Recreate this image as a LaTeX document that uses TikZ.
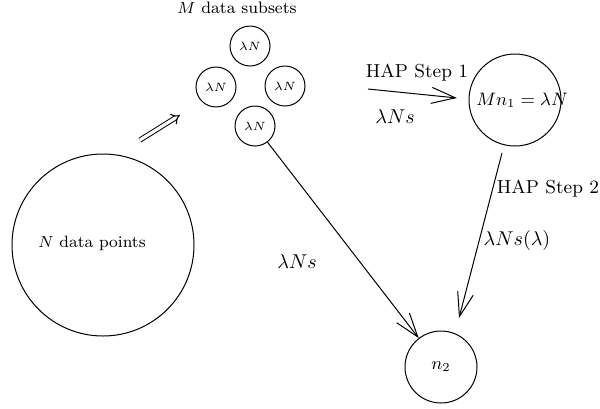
\documentclass[tikz,border=0pt]{standalone}
\usetikzlibrary{arrows.meta}

\begin{document}
\begin{tikzpicture}[x=0.5pt,y=-0.5pt,>={Straight Barb[length=12pt,width=8pt]},
 set/.style={draw,circle,inner sep=0pt,line width=0.5pt},
 sub/.style={set,minimum size=20pt,font=\fontsize{6}{7}\selectfont},
 flow/.style={->,line width=0.5pt},
 lab/.style={font=\fontsize{9.4}{11}\selectfont}]
\useasboundingbox (0,0) rectangle (600,408);
\node[set,minimum size=91pt,font=\fontsize{8.2}{10}\selectfont] (all) at (103,245) {};
\node[font=\fontsize{8.2}{10}\selectfont] (alllab) at (92,243) {$N$ data points};
\node[font=\fontsize{8.3}{10}\selectfont] (subs) at (237,8) {$M$ data subsets};
\node[sub] (s1) at (250,46) {$\lambda N$};
\node[sub] (s2) at (216,87) {$\lambda N$};
\node[sub] (s3) at (285,86) {$\lambda N$};
\node[sub] (s4) at (255,126) {$\lambda N$};
\node[set,minimum size=46pt] (mn) at (515,100) {};
\node[font=\fontsize{8.7}{10}\selectfont] (mnlab) at (522,100) {$Mn_1=\lambda N$};
\node[set,minimum size=36pt,font=\small] (nb) at (441,367) {$n_2$};
% free ends of the arrows
\coordinate (d0) at (140,140);
\coordinate (d1) at (180,115);
\coordinate (h0) at (368,89);
\coordinate (h1) at (457,98);
\coordinate (k0) at (502,153);
\coordinate (k1) at (459,318);
\draw[double,double distance=1.6pt,line width=0.5pt,-{Implies}] (d0) -- (d1);
\draw[flow] (h0) -- (h1);
\draw[flow] (k0) -- (k1);
\draw[flow] (s4) -- (nb);
\node[lab] (step1) at (417,73) {HAP Step 1};
\node (r1) at (395,117) {$\lambda Ns$};
\node[lab] (step2) at (548,189) {HAP Step 2};
\node (r2) at (517,240) {$\lambda Ns(\lambda)$};
\node (r3) at (297,262) {$\lambda Ns$};
\end{tikzpicture}
\end{document}
